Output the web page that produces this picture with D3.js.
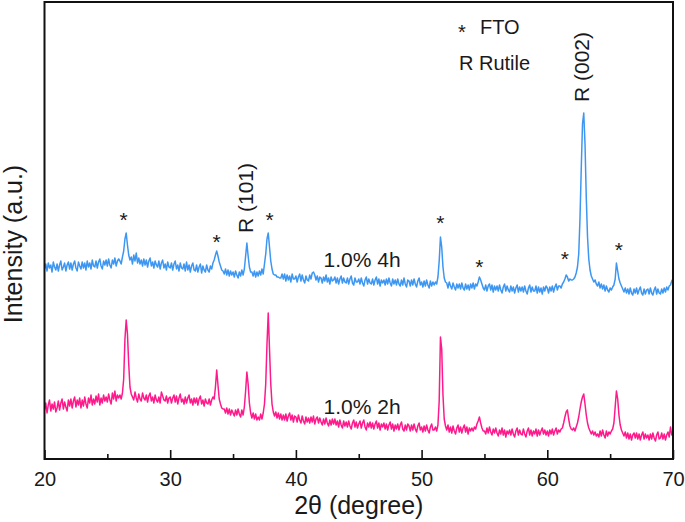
<!DOCTYPE html>
<html><head><meta charset="utf-8">
<script src="https://cdn.jsdelivr.net/npm/d3@7"></script>
<style>
html,body{margin:0;padding:0;background:#fff;}
svg text{font-family:"Liberation Sans",Arial,sans-serif;fill:#1a1a1a;}
</style></head>
<body><svg id="chart" width="685" height="522"></svg>
<script>
// scan grid: 2θ from 20° to 70° in 0.1° steps
const scanStart = 20, scanStep = 0.1;
// 1.0% 4h (blue) intensities, a.u. (offset trace)
const intensity4h = [
190,195,188,196,191,194,187,197,192,189,
195,188,194,198,189,192,196,188,194,197,
190,196,189,195,198,191,188,197,193,190,
197,191,196,189,198,192,196,190,199,193,
192,198,191,197,200,193,190,198,194,199,
193,200,194,191,199,195,201,193,198,200,
198,195,202,208,220,226,214,204,199,202,
195,204,198,206,196,201,195,199,193,200,
194,199,192,198,201,193,197,191,198,194,
192,198,190,196,199,191,195,189,197,192,
191,196,189,195,198,190,194,188,196,191,
190,195,188,197,189,194,187,193,196,189,
188,194,187,192,195,186,193,189,187,194,
189,187,193,190,196,199,204,208,203,197,
193,189,188,185,190,184,189,183,188,184,
187,182,188,184,181,187,183,189,184,190,
203,216,203,192,187,187,183,188,182,187,
183,188,184,190,185,195,205,220,226,212,
198,190,185,184,184,182,182,181,181,185,
180,185,178,184,179,183,177,185,180,180,
183,177,182,185,178,184,179,176,183,179,
178,184,180,186,187,184,179,183,177,182,
181,176,182,178,184,177,181,175,182,178,
179,182,176,181,175,180,183,176,181,177,
176,181,175,180,183,176,174,181,177,177,
180,175,181,176,173,179,182,175,180,176,
175,180,174,179,182,175,180,173,179,176,
179,174,180,175,181,176,173,180,175,179,
174,180,175,173,179,174,181,175,172,179,
178,173,179,174,180,175,172,178,181,174,
177,172,178,173,179,174,171,178,173,177,
174,177,175,182,198,222,212,192,181,177,
176,171,177,173,170,176,172,169,175,171,
175,170,176,171,169,175,170,174,169,175,
171,176,170,175,173,177,182,179,175,171,
169,174,168,173,175,169,174,167,173,169,
173,168,174,169,166,172,175,168,173,169,
167,173,168,172,166,171,174,167,172,168,
172,167,173,168,165,171,174,167,172,168,
168,173,166,172,167,171,165,172,168,173,
171,166,172,168,173,167,172,175,169,173,
173,171,175,177,180,184,182,178,180,179,
179,180,182,186,192,205,240,290,335,346,
315,262,222,200,189,183,180,177,179,175,
173,177,171,175,170,174,168,173,169,167,
171,169,172,174,180,196,188,180,176,173,
170,167,171,166,170,165,171,166,164,170,
166,171,165,169,172,166,164,170,165,169,
170,165,171,166,164,169,172,165,170,166,
165,170,166,171,167,172,169,173,174,178,
180];
// 1.0% 2h (pink) intensities, a.u.
const intensity2h = [
49,56,46,54,59,48,55,50,57,47,
51,58,49,56,60,50,57,52,48,59,
53,60,51,58,62,52,59,54,61,51,
59,53,62,55,51,61,56,64,54,60,
55,63,57,65,54,61,56,64,58,62,
57,65,59,55,66,60,68,58,64,61,
64,60,66,80,120,139,125,95,72,65,
62,59,67,61,57,65,60,58,66,61,
59,64,57,63,66,58,62,56,64,59,
57,62,56,67,63,59,58,63,56,61,
62,56,61,64,57,63,55,61,65,57,
60,55,62,56,61,64,56,60,54,61,
56,61,54,60,63,55,59,53,60,56,
55,60,54,59,62,60,72,89,74,60,
55,51,50,50,46,51,45,50,44,49,
46,43,49,44,50,45,42,49,44,52,
68,87,75,56,46,41,46,40,45,39,
42,39,45,40,46,55,75,115,146,110,
75,55,47,43,47,41,46,40,45,39,
44,39,45,38,43,46,39,44,37,43,
42,37,44,39,36,43,38,35,42,37,
41,36,42,37,43,35,40,42,36,41,
37,34,40,35,41,36,33,39,34,40,
35,40,34,38,32,39,34,31,38,33,
37,32,38,33,30,36,39,32,37,31,
35,38,31,36,39,32,29,36,32,37,
31,36,30,35,38,31,36,29,35,32,
36,30,35,29,34,37,30,35,28,34,
30,35,29,34,37,30,28,34,29,35,
33,28,34,29,35,30,27,33,36,29,
32,27,33,28,34,29,26,32,35,29,
29,32,28,34,58,122,110,64,40,33,
29,34,27,32,26,33,28,25,31,34,
27,32,26,31,34,27,32,25,31,28,
31,28,32,30,35,38,42,36,31,28,
28,25,31,26,32,27,24,30,26,31,
26,23,29,25,31,24,29,22,28,25,
29,24,30,25,22,28,31,24,29,25,
24,30,25,22,28,31,24,29,23,28,
25,30,23,29,24,28,31,25,29,24,
28,23,29,25,30,24,28,31,25,29,
27,30,31,36,42,47,49,40,33,30,
29,31,28,32,36,42,50,57,62,65,
55,44,36,31,28,25,28,24,27,23,
25,22,28,23,29,24,21,28,23,27,
25,28,30,36,52,68,60,44,34,29,
26,23,27,21,26,20,25,19,24,26,
21,26,20,25,19,24,27,20,25,21,
24,19,25,20,26,21,18,24,27,20,
21,26,20,25,19,24,27,22,32,24,
26];
const seriesNames = ["1.0% 4h", "1.0% 2h"];
const seriesColors = ["#3d97f2", "#ff1a8c"];
const xMajorTicks = [20, 30, 40, 50, 60, 70];
const xMinorTicks = [25, 35, 45, 55, 65];
// FTO (*) marks: 2θ and label height (a.u.)
const ftoX = [26.3, 33.7, 37.9, 51.5, 54.6, 61.4, 65.7];
const ftoY = [244, 222, 244, 241, 197, 205, 214];
// Rutile labels
const rutileLabels = ["R (101)", "R (002)"];
const rutileX = [36.0, 62.8];
const rutileY = [226, 357];
const seriesLabelX = [42.2, 42.2];
const seriesLabelY = [199, 52];

const svg = d3.select("#chart");
const L = 44.5, R = 673, T = 2, B = 459;
const x = d3.scaleLinear().domain([20, 70]).range([L, R]);
const y = d3.scaleLinear().domain([0, 457]).range([B, T]);

const series = [intensity4h, intensity2h].map(arr => arr.map((v, i) => [scanStart + i * scanStep, v]));
const line = d3.line().x(d => x(d[0])).y(d => y(d[1]));

svg.append("defs").append("clipPath").attr("id", "clip")
  .append("rect").attr("x", L).attr("y", T).attr("width", R - L).attr("height", B - T);

svg.append("g").attr("clip-path", "url(#clip)").selectAll("path").data(series).join("path")
  .attr("d", line).attr("fill", "none")
  .attr("stroke", (d, i) => seriesColors[i]).attr("stroke-width", 1.5)
  .attr("stroke-linejoin", "round");

// frame
svg.append("rect").attr("x", L).attr("y", T).attr("width", R - L).attr("height", B - T)
  .attr("fill", "none").attr("stroke", "#111").attr("stroke-width", 2);

// bottom axis, inward ticks
const ax = svg.append("g").attr("transform", `translate(0,${B})`)
  .call(d3.axisBottom(x).tickValues(xMajorTicks).tickSizeInner(-9).tickSizeOuter(0).tickPadding(13).tickFormat(d3.format("d")));
ax.select(".domain").remove();
ax.selectAll("line").attr("stroke", "#111").attr("stroke-width", 1.6);
ax.selectAll("text").attr("font-size", 20).attr("font-family", "Liberation Sans, Arial, sans-serif").attr("fill", "#1a1a1a");
const axm = svg.append("g").attr("transform", `translate(0,${B})`)
  .call(d3.axisBottom(x).tickValues(xMinorTicks).tickSizeInner(-5).tickSizeOuter(0).tickFormat(""));
axm.select(".domain").remove();
axm.selectAll("line").attr("stroke", "#111").attr("stroke-width", 1.6);

// axis titles
svg.append("text").attr("x", (L + R) / 2).attr("y", 514).attr("text-anchor", "middle")
  .attr("font-size", 25).text("2θ (degree)");
svg.append("text").attr("transform", "translate(22,244) rotate(-90)").attr("text-anchor", "middle")
  .attr("font-size", 25).text("Intensity (a.u.)");

// FTO asterisks
svg.selectAll("text.fto").data(ftoX).join("text").attr("class", "fto")
  .attr("x", d => x(d)).attr("y", (d, i) => y(ftoY[i]) + 12).attr("text-anchor", "middle")
  .attr("font-size", 21).text("*");

// rutile labels (rotated)
rutileLabels.forEach((t, i) => {
  svg.append("text").attr("transform", `translate(${x(rutileX[i]) + 7},${y(rutileY[i])}) rotate(-90)`)
    .attr("font-size", 21).text(t);
});

// series labels
seriesNames.forEach((t, i) => {
  svg.append("text").attr("x", x(seriesLabelX[i])).attr("y", y(seriesLabelY[i]) + 7)
    .attr("font-size", 21).text(t);
});

// legend
svg.append("text").attr("x", 462).attr("y", 39).attr("text-anchor", "middle").attr("font-size", 20).text("*");
svg.append("text").attr("x", 480).attr("y", 34).attr("font-size", 20).text("FTO");
svg.append("text").attr("x", 459).attr("y", 70).attr("font-size", 20).text("R Rutile");
</script></body></html>
